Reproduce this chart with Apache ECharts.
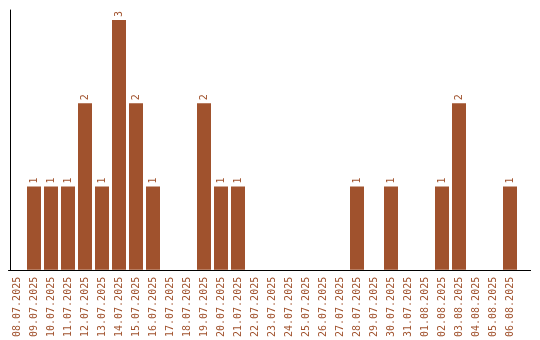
<!DOCTYPE html>
<html><head><meta charset="utf-8">
<script src="https://cdn.jsdelivr.net/npm/echarts@6/dist/echarts.min.js"></script>
<style>html,body{margin:0;padding:0;background:#fff}#c{width:540px;height:340px}</style>
</head><body><div id="c"></div>
<script>
const categories = ["08.07.2025","09.07.2025","10.07.2025","11.07.2025","12.07.2025","13.07.2025","14.07.2025","15.07.2025","16.07.2025","17.07.2025","18.07.2025","19.07.2025","20.07.2025","21.07.2025","22.07.2025","23.07.2025","24.07.2025","25.07.2025","26.07.2025","27.07.2025","28.07.2025","29.07.2025","30.07.2025","31.07.2025","01.08.2025","02.08.2025","03.08.2025","04.08.2025","05.08.2025","06.08.2025"];
const values = [0,1,1,1,2,1,3,2,1,0,0,2,1,1,0,0,0,0,0,0,1,0,1,0,0,1,2,0,0,1];

const brown = '#A0522D';
const font = '"DejaVu Sans Mono", monospace';
const chart = echarts.init(document.getElementById('c'));
chart.setOption({
  animation: false,
  grid: {left: 8.5, top: 10, width: 510, height: 260, containLabel: false},
  graphic: [{type: 'line', shape: {x1: 518, y1: 270.5, x2: 531, y2: 270.5}, style: {stroke: '#000', lineWidth: 1}}],
  xAxis: {
    type: 'category', data: categories, boundaryGap: true,
    axisLine: {lineStyle: {color: '#000', width: 1}},
    axisTick: {show: false},
    axisLabel: {rotate: 90, interval: 0, color: brown, fontFamily: font, fontSize: 10, margin: 7}
  },
  yAxis: {
    type: 'value', min: 0, max: 3.12, offset: -1.5,
    axisLine: {show: true, lineStyle: {color: '#000', width: 1}},
    axisTick: {show: false}, axisLabel: {show: false}, splitLine: {show: false}
  },
  series: [{
    type: 'bar', data: values.map(v => v === 0 ? null : v), barWidth: 14,
    itemStyle: {color: brown},
    label: {show: true, position: 'top', rotate: 90, align: 'left', verticalAlign: 'middle', distance: 3,
      color: brown, fontFamily: font, fontSize: 10}
  }]
});
</script></body></html>
